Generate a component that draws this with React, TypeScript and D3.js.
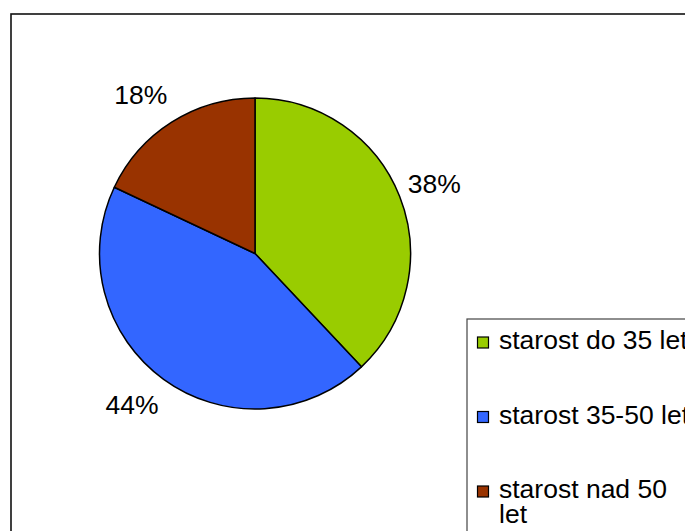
import React from "react";
import * as d3 from "d3";

const categories = ["starost do 35 let", "starost 35-50 let", "starost nad 50 let"];
const legendLines = [["starost do 35 let"], ["starost 35-50 let"], ["starost nad 50", "let"]];
const values = [38, 44, 18];
const colors = ["#99CC00", "#3366FF", "#993300"];

const W = 685;
const H = 531;
const cx = 255;
const cy = 253.5;
const R = 155.5;
const FONT = "'Liberation Sans', Arial, sans-serif";

export default function App() {
  const pie = d3.pie<number>().sort(null).value((d) => d);
  const arcs = pie(values);
  const arcGen = d3.arc<d3.PieArcDatum<number>>().innerRadius(0).outerRadius(R);
  const total = d3.sum(values);

  return (
    <svg
      width={W}
      height={H}
      style={{ position: "fixed", left: 0, top: 0, background: "#fff" }}
      fontFamily={FONT}
    >
      <rect x={0} y={0} width={W} height={H} fill="#fff" />
      <rect x={11} y={14} width={W + 20} height={H + 20} fill="none" stroke="#111" strokeWidth={1.6} />
      <g transform={`translate(${cx},${cy})`}>
        {arcs.map((a, i) => (
          <path key={i} d={arcGen(a) || ""} fill={colors[i]} stroke="#000" strokeWidth={1.5} strokeLinejoin="round" />
        ))}
        {arcs.map((a, i) => {
          const mid = (a.startAngle + a.endAngle) / 2;
          const rr = R + 12;
          const x = Math.sin(mid) * rr;
          const y = -Math.cos(mid) * rr;
          const dy = -Math.cos(mid) * 20;
          const anchor = Math.sin(mid) >= 0 ? "start" : "end";
          const pct = Math.round((values[i] / total) * 100) + "%";
          return (
            <text
              key={"l" + i}
              x={x + (anchor === "start" ? -3 : 2)}
              y={y + dy}
              textAnchor={anchor}
              dominantBaseline="central"
              fontSize={26.5}
              fill="#000"
            >
              {pct}
            </text>
          );
        })}
      </g>
      <rect x={467} y={319} width={W} height={H} fill="#fff" stroke="#444" strokeWidth={1.2} />
      {categories.map((c, i) => {
        const baseY = 349 + i * 74.5;
        return (
          <g key={c}>
            <rect x={477.5} y={baseY - 12} width={11} height={11} fill={colors[i]} stroke="#000" strokeWidth={1.2} />
            {legendLines[i].map((ln, j) => (
              <text key={j} x={499} y={baseY + j * 25} fontSize={26.5} fill="#000">
                {ln}
              </text>
            ))}
          </g>
        );
      })}
    </svg>
  );
}
